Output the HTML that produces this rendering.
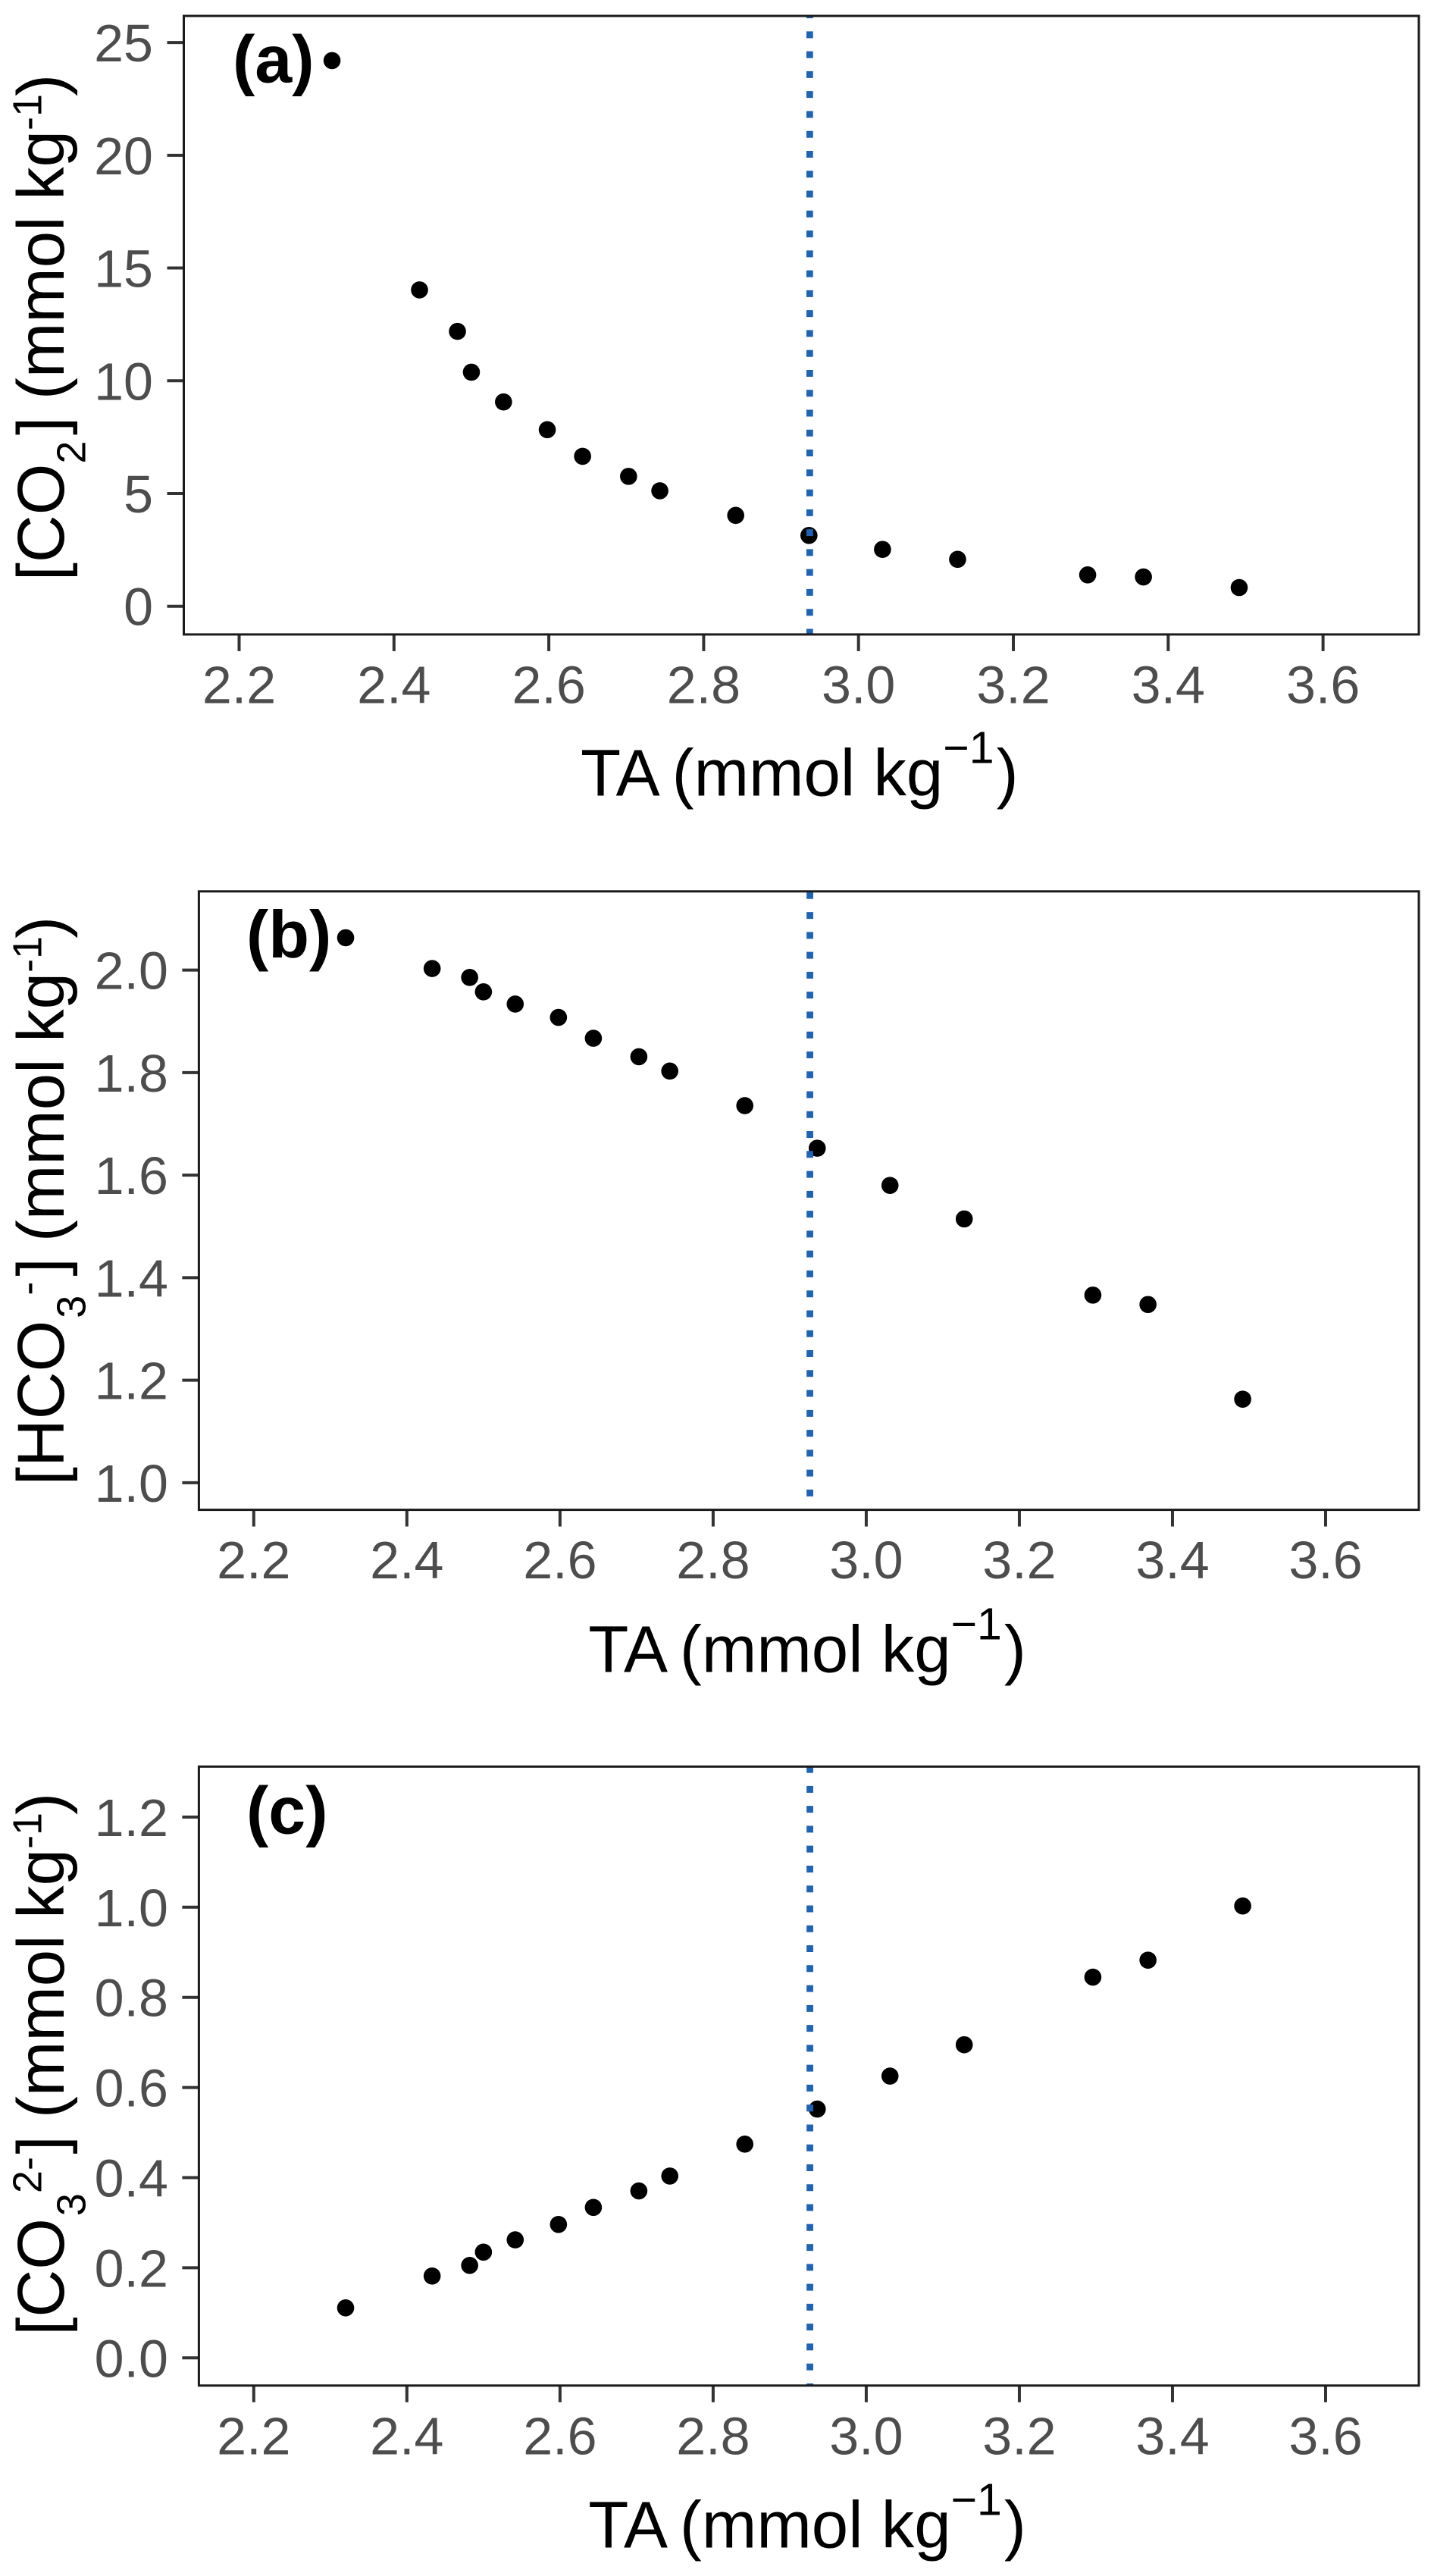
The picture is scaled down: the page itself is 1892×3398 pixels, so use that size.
<!DOCTYPE html>
<html lang="en">
<head>
<meta charset="utf-8">
<title>Carbonate system versus total alkalinity</title>
<style>
  html, body { margin: 0; padding: 0; background: #ffffff; }
  svg { display: block; }
  text { font-family: "Liberation Sans", Arial, sans-serif; }
  .tick-label { font-size: 70px; fill: #4d4d4d; }
  .axis-title { font-size: 87px; fill: #000000; }
  .panel-tag { font-size: 88px; font-weight: bold; fill: #000000; }
</style>
</head>
<body>
<svg id="figure" xmlns="http://www.w3.org/2000/svg" width="1892" height="3398" viewBox="0 0 1892 3398">
  <rect x="0" y="0" width="1892" height="3398" fill="#ffffff"/>

  <g id="panel-a"></g>
  <g id="panel-b"></g>
  <g id="panel-c"></g>

  <text class="panel-tag" x="307" y="108.7">(a)</text>
  <text class="panel-tag" x="325" y="1263">(b)</text>
  <text class="panel-tag" x="325" y="2418.7">(c)</text>

  <text class="axis-title" x="766" y="1049.5">TA<tspan dx="-3.5"> (mmol kg</tspan><tspan font-size="59" dy="-43">−1</tspan><tspan dy="43" dx="3">)</tspan></text>
  <text class="axis-title" x="776.3" y="2205.5">TA<tspan dx="-3.5"> (mmol kg</tspan><tspan font-size="59" dy="-43">−1</tspan><tspan dy="43" dx="3">)</tspan></text>
  <text class="axis-title" x="776.3" y="3360.6">TA<tspan dx="-3.5"> (mmol kg</tspan><tspan font-size="59" dy="-43">−1</tspan><tspan dy="43" dx="3">)</tspan></text>

  <text class="axis-title" transform="translate(84,766.3) rotate(-90)">[CO<tspan font-size="54" dy="28.5">2</tspan><tspan dy="-28.5" dx="7.6">]</tspan><tspan dx="-1.5"> (mmol</tspan><tspan dx="-2.5"> kg</tspan><tspan font-size="54" dy="-29.5">-1</tspan><tspan dy="29.5" dx="-3">)</tspan></text>
  <text class="axis-title" transform="translate(84,1959.2) rotate(-90)">[HCO<tspan font-size="54" dy="28.5" dx="3">3</tspan><tspan font-size="54" dy="-58">-</tspan><tspan dy="29.5" dx="7.2">]</tspan><tspan dx="-3"> (mmol</tspan><tspan dx="-2.5"> kg</tspan><tspan font-size="54" dy="-29.5">-1</tspan><tspan dy="29.5" dx="-3">)</tspan></text>
  <text class="axis-title" transform="translate(84,3080.8) rotate(-90)">[CO<tspan font-size="54" dy="28.5" dx="3">3</tspan><tspan font-size="54" dy="-58">2-</tspan><tspan dy="29.5" dx="3.6">]</tspan><tspan dx="-1"> (mmol</tspan><tspan dx="-2.5"> kg</tspan><tspan font-size="54" dy="-29.5">-1</tspan><tspan dy="29.5" dx="-3">)</tspan></text>
</svg>

<script>
// ---- data ----
const taValues = [2.32, 2.433, 2.482, 2.5, 2.5415, 2.598, 2.6436, 2.703, 2.7434, 2.8414, 2.936, 3.031, 3.128, 3.296, 3.368, 3.4917];
const co2Values = [24.2, 14.03, 12.19, 10.38, 9.06, 7.83, 6.65, 5.76, 5.12, 4.03, 3.14, 2.52, 2.08, 1.39, 1.30, 0.83];
const hco3Values = [2.063, 2.003, 1.9856, 1.9575, 1.9337, 1.9077, 1.867, 1.831, 1.803, 1.7355, 1.6525, 1.58, 1.5146, 1.366, 1.3477, 1.163];
const co3Values = [0.111, 0.1817, 0.2052, 0.2347, 0.2619, 0.2961, 0.3339, 0.3705, 0.4035, 0.4743, 0.5521, 0.6253, 0.6948, 0.8448, 0.8825, 1.0027];

const xTickLabels = ["2.2", "2.4", "2.6", "2.8", "3.0", "3.2", "3.4", "3.6"];
const co2TickLabels = ["0", "5", "10", "15", "20", "25"];
const hco3TickLabels = ["1.0", "1.2", "1.4", "1.6", "1.8", "2.0"];
const co3TickLabels = ["0.0", "0.2", "0.4", "0.6", "0.8", "1.0", "1.2"];

const co2ThresholdTA = 2.937;
const hco3ThresholdTA = 2.9264;
const co3ThresholdTA = 2.9264;

// ---- drawing ----
const SVG_NS = "http://www.w3.org/2000/svg";

function makeAxis(refValueA, refPixelA, refValueB, refPixelB) {
  const slope = (refPixelB - refPixelA) / (refValueB - refValueA);
  return function (v) { return refPixelA + (v - refValueA) * slope; };
}

function shape(parent, tag, attrs) {
  const el = document.createElementNS(SVG_NS, tag);
  Object.keys(attrs).forEach(function (k) { el.setAttribute(k, attrs[k]); });
  parent.appendChild(el);
  return el;
}

function drawPanel(cfg) {
  const g = document.getElementById(cfg.id);
  const xAxis = makeAxis(2.2, cfg.x22, 3.6, cfg.x36);
  const yAxis = makeAxis(cfg.yRefA, cfg.yPxA, cfg.yRefB, cfg.yPxB);

  const bg = shape(g, "rect", { x: cfg.left, y: cfg.top, width: cfg.right - cfg.left, height: cfg.bottom - cfg.top, fill: "#ffffff" });
  
  

  cfg.xLabels.forEach(function (label) {
    const px = xAxis(parseFloat(label));
    const tick = shape(g, "line", { x1: px, x2: px, y1: cfg.bottom, y2: cfg.bottom + 22, stroke: "#333333", "stroke-width": 4 });
    
    
    const txt = shape(g, "text", { x: px, y: cfg.bottom + 90.5, "text-anchor": "middle", "class": "tick-label" });
    txt.textContent = label;
    
    
  });

  cfg.yLabels.forEach(function (label) {
    const py = yAxis(parseFloat(label));
    const tick = shape(g, "line", { x1: cfg.left - 22, x2: cfg.left, y1: py, y2: py, stroke: "#333333", "stroke-width": 4 });
    
    
    const txt = shape(g, "text", { x: cfg.left - 40.5, y: py + 25, "text-anchor": "end", "class": "tick-label" });
    txt.textContent = label;
    
    
  });

  cfg.xs.forEach(function (xv, i) {
    const dot = shape(g, "circle", { cx: xAxis(xv), cy: yAxis(cfg.ys[i]), r: 11.3, fill: "#000000" });
    
    
  });

  const vx = xAxis(cfg.threshold);
  const vline = shape(g, "line", {
    x1: vx, x2: vx, y1: cfg.top, y2: cfg.bottom,
    stroke: "#1f63b5", "stroke-width": 8.8,
    "stroke-dasharray": "9 17.27", "stroke-dashoffset": cfg.dashOffset
  });
  
  

  const frame = shape(g, "rect", { x: cfg.left, y: cfg.top, width: cfg.right - cfg.left, height: cfg.bottom - cfg.top, fill: "none", stroke: "#1a1a1a", "stroke-width": 3 });
  
  
}

drawPanel({
  id: "panel-a", prefix: "panel-a",
  left: 242.5, right: 1872, top: 21, bottom: 836.9,
  x22: 315.5, x36: 1745.6,
  yRefA: 0, yPxA: 799.7, yRefB: 25, yPxB: 56.1,
  xs: taValues, ys: co2Values, xLabels: xTickLabels, yLabels: co2TickLabels,
  threshold: co2ThresholdTA, dashOffset: 5.9
});
drawPanel({
  id: "panel-b", prefix: "panel-b",
  left: 262.4, right: 1872, top: 1175.8, bottom: 1991.6,
  x22: 334.8, x36: 1749,
  yRefA: 1, yPxA: 1955.9, yRefB: 2, yPxB: 1279.6,
  xs: taValues, ys: hco3Values, xLabels: xTickLabels, yLabels: hco3TickLabels,
  threshold: hco3ThresholdTA, dashOffset: 25.27
});
drawPanel({
  id: "panel-c", prefix: "panel-c",
  left: 262.4, right: 1872, top: 2330.3, bottom: 3146.8,
  x22: 334.8, x36: 1749,
  yRefA: 0, yPxA: 3110.3, yRefB: 1.2, yPxB: 2396.9,
  xs: taValues, ys: co3Values, xLabels: xTickLabels, yLabels: co3TickLabels,
  threshold: co3ThresholdTA, dashOffset: 0.7
});
</script>
</body>
</html>
